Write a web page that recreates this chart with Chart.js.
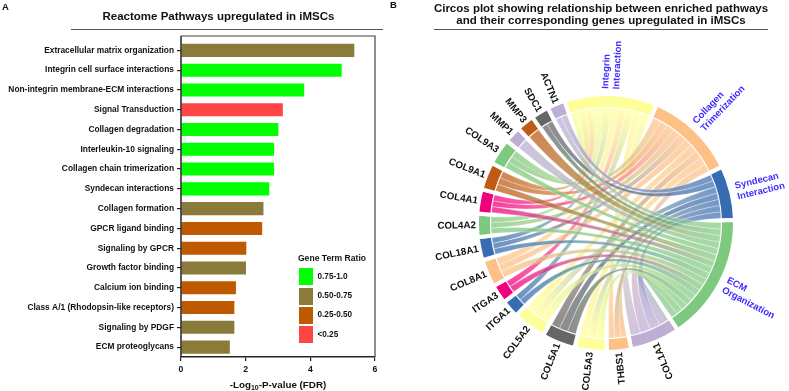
<!DOCTYPE html>
<html>
<head>
<meta charset="utf-8">
<script src="https://cdn.jsdelivr.net/npm/chart.js"></script>
<style>
  body { margin: 0; width: 789px; height: 391px; background: #fff; position: relative; overflow: hidden;
         font-family: "Liberation Sans", Arial, sans-serif; color: #111; }
  canvas { position: absolute; top: 0; }
  #barCanvas { left: 0; }
  #circosCanvas { left: 390px; }
  .txt { position: absolute; white-space: nowrap; font-weight: bold; }
  .rule { position: absolute; height: 1px; background: #555; }
</style>
</head>
<body>
<canvas id="barCanvas" width="390" height="391"></canvas>
<canvas id="circosCanvas" width="399" height="391"></canvas>

<div class="txt" style="left:2px;top:2px;font-size:9.5px;line-height:9.5px">A</div>
<div class="txt" style="left:390px;top:0.3px;font-size:9.5px;line-height:9.5px">B</div>
<div class="txt" style="left:0;width:437px;text-align:center;top:11px;font-size:11.5px;line-height:11.5px">Reactome Pathways upregulated in iMSCs</div>
<div class="rule" style="left:71px;width:312px;top:29px"></div>
<div class="txt" style="left:401px;width:400px;text-align:center;top:1.5px;font-size:11.5px;line-height:12.5px">Circos plot showing relationship between enriched pathways<br>and their corresponding genes upregulated in iMSCs</div>
<div class="rule" style="left:434px;width:334px;top:29px"></div>
<div class="txt" style="left:178px;width:200px;text-align:center;top:380px;font-size:9.8px;line-height:9.8px">-Log<sub style="font-size:7px;line-height:0;vertical-align:-2px">10</sub>-P-value (FDR)</div>
<div id="legend"></div>

<script>
// ---- panel A: Reactome pathways ----
const pathways = [
  'Extracellular matrix organization', 'Integrin cell surface interactions',
  'Non-integrin membrane-ECM interactions', 'Signal Transduction', 'Collagen degradation',
  'Interleukin-10 signaling', 'Collagen chain trimerization', 'Syndecan interactions',
  'Collagen formation', 'GPCR ligand binding', 'Signaling by GPCR', 'Growth factor binding',
  'Calcium ion binding', 'Class A/1 (Rhodopsin-like receptors)', 'Signaling by PDGF', 'ECM proteoglycans'
];
const log10Fdr = [5.36, 4.97, 3.81, 3.15, 3.01, 2.88, 2.88, 2.73, 2.55, 2.51, 2.02, 2.01, 1.70, 1.65, 1.65, 1.51];
const ratioBin = [1, 0, 0, 3, 0, 0, 0, 0, 1, 2, 2, 1, 2, 2, 1, 1]; // index into ratioLabels
const ratioLabels = ['0.75-1.0', '0.50-0.75', '0.25-0.50', '<0.25'];
const ratioColors = ['#00ff00', '#8b7b3a', '#c05a00', '#ff4444'];

// ---- panel B: circos sectors and links ----
const sectorNames = [
  'Integrin Interaction', 'Collagen Trimerization', 'Syndecan Interaction', 'ECM Organization',
  'COL1A1', 'THBS1', 'COL5A3', 'COL5A1', 'COL5A2', 'ITGA1', 'ITGA3', 'COL8A1', 'COL18A1',
  'COL4A2', 'COL4A1', 'COL9A1', 'COL9A3', 'MMP1', 'MMP3', 'SDC1', 'ACTN1'
];
const sectorSizes = [42, 41, 24.5, 57.5, 22.5, 11, 14.5, 15, 15, 8, 8.5, 12.5, 10.5, 10.5, 11, 12.5, 12, 7.5, 8, 8, 8];
const sectorColors = [
  '#ffff99', '#fdc086', '#386cb0', '#7fc97f',
  '#beaed4', '#fdc086', '#ffff99', '#666666', '#ffff99', '#386cb0', '#f0027f', '#fdc086', '#386cb0',
  '#7fc97f', '#f0027f', '#bf5b17', '#7fc97f', '#beaed4', '#bf5b17', '#666666', '#beaed4'
];
const pathwayCount = 4;
const links = [
  ['COL1A1', 'ECM Organization'], ['COL1A1', 'Collagen Trimerization'], ['COL1A1', 'Integrin Interaction'], ['COL1A1', 'Syndecan Interaction'],
  ['THBS1', 'ECM Organization'], ['THBS1', 'Integrin Interaction'], ['THBS1', 'Syndecan Interaction'],
  ['COL5A3', 'ECM Organization'], ['COL5A3', 'Collagen Trimerization'], ['COL5A3', 'Syndecan Interaction'],
  ['COL5A1', 'ECM Organization'], ['COL5A1', 'Collagen Trimerization'], ['COL5A1', 'Syndecan Interaction'],
  ['COL5A2', 'ECM Organization'], ['COL5A2', 'Collagen Trimerization'], ['COL5A2', 'Syndecan Interaction'],
  ['ITGA1', 'ECM Organization'], ['ITGA1', 'Integrin Interaction'],
  ['ITGA3', 'ECM Organization'], ['ITGA3', 'Integrin Interaction'],
  ['COL8A1', 'ECM Organization'], ['COL8A1', 'Collagen Trimerization'], ['COL8A1', 'Integrin Interaction'],
  ['COL18A1', 'ECM Organization'], ['COL18A1', 'Collagen Trimerization'], ['COL18A1', 'Integrin Interaction'],
  ['COL4A2', 'ECM Organization'], ['COL4A2', 'Collagen Trimerization'], ['COL4A2', 'Integrin Interaction'],
  ['COL4A1', 'ECM Organization'], ['COL4A1', 'Collagen Trimerization'], ['COL4A1', 'Integrin Interaction'],
  ['COL9A1', 'ECM Organization'], ['COL9A1', 'Collagen Trimerization'], ['COL9A1', 'Integrin Interaction'],
  ['COL9A3', 'ECM Organization'], ['COL9A3', 'Collagen Trimerization'], ['COL9A3', 'Integrin Interaction'],
  ['MMP1', 'ECM Organization'],
  ['MMP3', 'ECM Organization'],
  ['SDC1', 'ECM Organization'], ['SDC1', 'Syndecan Interaction'],
  ['ACTN1', 'ECM Organization'], ['ACTN1', 'Syndecan Interaction']
];

const FONT = '"Liberation Sans", Arial, sans-serif';

// legend for panel A
const legend = document.getElementById('legend');
legend.innerHTML = '<div class="txt" style="left:297px;width:70px;text-align:center;top:253.7px;font-size:8.6px;line-height:8.6px">Gene Term Ratio</div>';
ratioLabels.forEach((lab, i) => {
  const top = 268.3 + i * 19.3;
  legend.innerHTML += `<div style="position:absolute;left:299px;top:${top}px;width:14px;height:17px;background:${ratioColors[i]}"></div>` +
    `<div class="txt" style="left:317.5px;top:${top + 8.5 - 4}px;font-size:8.2px;line-height:8.2px">${lab}</div>`;
});

// box around the bar plot
const framePlugin = {
  id: 'frame',
  afterDraw(chart) {
    const { ctx, chartArea: { left, right, bottom } } = chart;
    const top = 36;
    ctx.save();
    ctx.strokeStyle = '#222';
    ctx.lineWidth = 1.5;
    ctx.beginPath();
    ctx.moveTo(left, bottom);
    ctx.lineTo(left, top);
    ctx.stroke();
    ctx.strokeStyle = '#444';
    ctx.lineWidth = 1.2;
    ctx.beginPath();
    ctx.moveTo(left, top);
    ctx.lineTo(right, top);
    ctx.lineTo(right, bottom);
    ctx.stroke();
    ctx.restore();
  }
};

new Chart(document.getElementById('barCanvas'), {
  type: 'bar',
  data: {
    labels: pathways,
    datasets: [{
      data: log10Fdr,
      backgroundColor: ratioBin.map(b => ratioColors[b]),
      barPercentage: 0.66,
      categoryPercentage: 1
    }]
  },
  options: {
    indexAxis: 'y',
    responsive: false,
    animation: false,
    layout: { padding: { top: 40.5, right: 15, left: 0, bottom: 0 } },
    plugins: { legend: { display: false }, tooltip: { enabled: false } },
    scales: {
      x: {
        min: 0, max: 6,
        ticks: { stepSize: 2, color: '#111', padding: 3, font: { family: FONT, size: 8.7, weight: 'bold' } },
        grid: { drawOnChartArea: false, tickLength: 4, color: '#222', lineWidth: 1.2 },
        border: { display: true, color: '#222', width: 1.5 },
        afterFit(scale) { scale.height = 34; }
      },
      y: {
        ticks: { autoSkip: false, color: '#111', padding: 3, font: { family: FONT, size: 8.4, weight: 'bold' } },
        grid: { drawOnChartArea: false, offset: false, tickLength: 4, color: '#222', lineWidth: 1.2 },
        border: { display: false },
        afterFit(scale) { scale.width = 181; }
      }
    }
  },
  plugins: [framePlugin]
});

// chords + labels for the circos doughnut
function rgba(hex, a) {
  const n = parseInt(hex.slice(1), 16);
  return `rgba(${n >> 16},${(n >> 8) & 255},${n & 255},${a})`;
}

const chordPlugin = {
  id: 'chords',
  afterDatasetsDraw(chart) {
    const ctx = chart.ctx;
    const arcs = chart.getDatasetMeta(0).data;
    const cx = arcs[0].x, cy = arcs[0].y;
    const rLink = 115;
    const inset = 2.2 / rLink;
    const TAU = Math.PI * 2;
    const index = {};
    sectorNames.forEach((n, i) => { index[n] = i; });
    const mid = i => (arcs[i].startAngle + arcs[i].endAngle) / 2;

    // split each sector among its links, ordered to limit crossings
    const ends = sectorNames.map(() => []);
    links.forEach(([g, p], k) => {
      ends[index[g]].push({ k, other: index[p] });
      ends[index[p]].push({ k, other: index[g] });
    });
    const slot = {};
    ends.forEach((list, i) => {
      const m = mid(i);
      list.forEach(e => { let d = (mid(e.other) - m) % TAU; if (d < 0) d += TAU; e.d = d; });
      list.sort((a, b) => b.d - a.d);
      const s = arcs[i].startAngle + inset;
      const w = (arcs[i].endAngle - inset - s) / list.length;
      list.forEach((e, j) => { slot[e.k + '-' + i] = [s + j * w, s + (j + 1) * w]; });
    });

    const P = a => [cx + rLink * Math.cos(a), cy + rLink * Math.sin(a)];
    ctx.save();
    links.forEach(([g, p], k) => {
      const gi = index[g], pi = index[p];
      const [a0, a1] = slot[k + '-' + gi];
      const [b0, b1] = slot[k + '-' + pi];
      ctx.beginPath();
      ctx.moveTo(...P(a0));
      ctx.arc(cx, cy, rLink, a0, a1);
      ctx.quadraticCurveTo(cx, cy, ...P(b0));
      ctx.arc(cx, cy, rLink, b0, b1);
      ctx.quadraticCurveTo(cx, cy, ...P(a0));
      ctx.closePath();
      const gm = P((a0 + a1) / 2), pm = P((b0 + b1) / 2);
      const grad = ctx.createLinearGradient(gm[0], gm[1], pm[0], pm[1]);
      grad.addColorStop(0, rgba(sectorColors[gi], 0.74));
      grad.addColorStop(1, rgba(sectorColors[pi], 0.7));
      ctx.fillStyle = grad;
      ctx.fill();
      ctx.strokeStyle = 'rgba(255,255,255,0.6)';
      ctx.lineWidth = 0.5;
      ctx.stroke();
    });

    // labels: genes read toward the circle, pathways read outward
    sectorNames.forEach((name, i) => {
      const t = mid(i);
      ctx.save();
      ctx.translate(cx, cy);
      ctx.textBaseline = 'middle';
      if (i < pathwayCount) {
        ctx.rotate(t);
        ctx.fillStyle = '#3f2bff';
        ctx.font = `bold 9.5px ${FONT}`;
        ctx.textAlign = 'left';
        const lines = name.split(' ');
        ctx.fillText(lines[0], 134, -5.5);
        ctx.fillText(lines[1], 134, 5.5);
      } else {
        ctx.rotate(t + Math.PI);
        ctx.fillStyle = '#111';
        ctx.font = `bold 9.8px ${FONT}`;
        ctx.textAlign = 'right';
        ctx.fillText(name, -130, 0);
      }
      ctx.restore();
    });
    ctx.restore();
  }
};

new Chart(document.getElementById('circosCanvas'), {
  type: 'doughnut',
  data: {
    labels: sectorNames,
    datasets: [{
      data: sectorSizes,
      backgroundColor: sectorColors,
      borderColor: '#fff',
      borderWidth: 4,
      hoverOffset: 0
    }]
  },
  options: {
    responsive: false,
    animation: false,
    radius: 129,
    cutout: '88.4%',
    rotation: -18.8,
    layout: { padding: { left: 60, right: 27, top: 80, bottom: 25 } },
    plugins: { legend: { display: false }, tooltip: { enabled: false } }
  },
  plugins: [chordPlugin]
});
</script>
</body>
</html>
